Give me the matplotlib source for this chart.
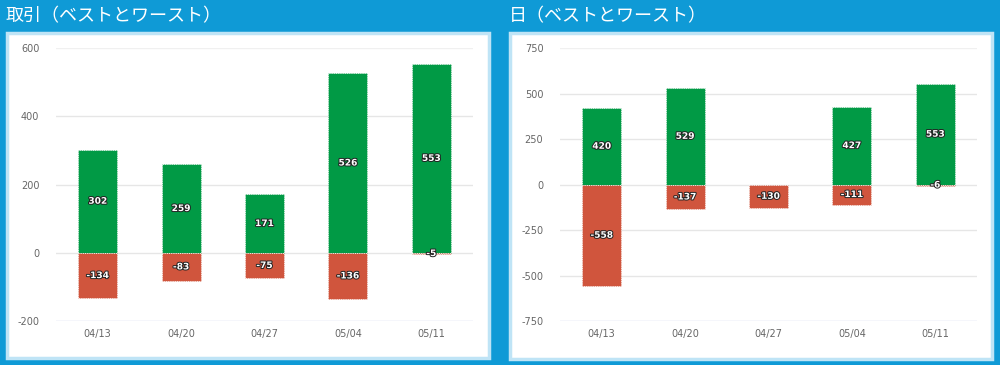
import matplotlib
matplotlib.use("Agg")
import matplotlib.pyplot as plt
import matplotlib.patheffects as pe
from matplotlib.patches import Rectangle

plt.rcParams['font.family'] = ['Noto Sans CJK JP', 'DejaVu Sans']

categories = ["04/13", "04/20", "04/27", "05/04", "05/11"]

trade_best = [302, 259, 171, 526, 553]
trade_worst = [-134, -83, -75, -136, -5]
trade_ticks = [-200, 0, 200, 400, 600]

day_best = [420, 529, None, 427, 553]
day_worst = [-558, -137, -130, -111, -6]
day_ticks = [-750, -500, -250, 0, 250, 500, 750]

titles = ["取引（ベストとワースト）", "日（ベストとワースト）"]

GREEN = "#019a45"
RED = "#d0553d"
BG = "#0f9ad6"

W, H = 1000, 365
fig = plt.figure(figsize=(W / 100, H / 100), dpi=100)
fig.patch.set_facecolor(BG)


def px_rect(x0, y0, x1, y1):
    return [x0 / W, 1 - y1 / H, (x1 - x0) / W, (y1 - y0) / H]


panels = [
    dict(panel=(7, 33, 489, 358), ax=(56, 48, 473, 321), title_x=6,
         best=trade_best, worst=trade_worst, ticks=trade_ticks),
    dict(panel=(510, 33, 992, 359), ax=(560, 48, 977, 321), title_x=509,
         best=day_best, worst=day_worst, ticks=day_ticks),
]

for i, p in enumerate(panels):
    x0, y0, x1, y1 = p["panel"]
    fig.patches.append(Rectangle((x0 / W, 1 - y1 / H), (x1 - x0) / W, (y1 - y0) / H,
                                 transform=fig.transFigure, facecolor="white",
                                 edgecolor="#bfe4f6", linewidth=2.5, zorder=-5))
    fig.text(p["title_x"] / W, 1 - 16 / H, titles[i], color="white", fontsize=13,
             ha="left", va="center")

    ax = fig.add_axes(px_rect(*p["ax"]))
    ax.set_zorder(1)
    ax.patch.set_alpha(0)
    xs = list(range(len(categories)))
    ticks = p["ticks"]
    for t in ticks:
        if t == ticks[0]:
            col = "#ccd6eb"
        elif t == ticks[-1]:
            col = "#f0f0f0"
        else:
            col = "#e6e6e6"
        ax.axhline(t, color=col, linewidth=1, zorder=0)
    bw = 0.47
    label_fx = [pe.withStroke(linewidth=1.4, foreground="#222222")]
    for x, b, w in zip(xs, p["best"], p["worst"]):
        if b is not None:
            ax.bar(x, b, width=bw, color=GREEN, edgecolor="white", linewidth=0.6,
                   linestyle=":", zorder=2)
            ax.text(x, b / 2, str(b), ha="center", va="center", fontsize=6.5,
                    fontweight="bold", color="white", family="DejaVu Sans", zorder=4,
                    path_effects=label_fx)
        if w is not None:
            ax.bar(x, w, width=bw, color=RED, edgecolor="white", linewidth=0.6,
                   linestyle=":", zorder=2)
            ax.text(x, w / 2, str(w), ha="center", va="center", fontsize=6.5,
                    fontweight="bold", color="white", family="DejaVu Sans", zorder=4,
                    path_effects=label_fx)
    ax.set_xlim(-0.5, len(categories) - 0.5)
    ax.set_ylim(ticks[0], ticks[-1])
    ax.set_yticks(ticks)
    ax.set_yticklabels([str(t) for t in ticks], family="DejaVu Sans")
    ax.set_xticks(xs)
    ax.set_xticklabels(categories, family="DejaVu Sans")
    ax.tick_params(axis="both", length=0, labelsize=7, colors="#666666")
    ax.tick_params(axis="y", pad=12)
    ax.tick_params(axis="x", pad=6)
    for s in ax.spines.values():
        s.set_visible(False)

fig.savefig("out.png", dpi=100, facecolor=BG)
